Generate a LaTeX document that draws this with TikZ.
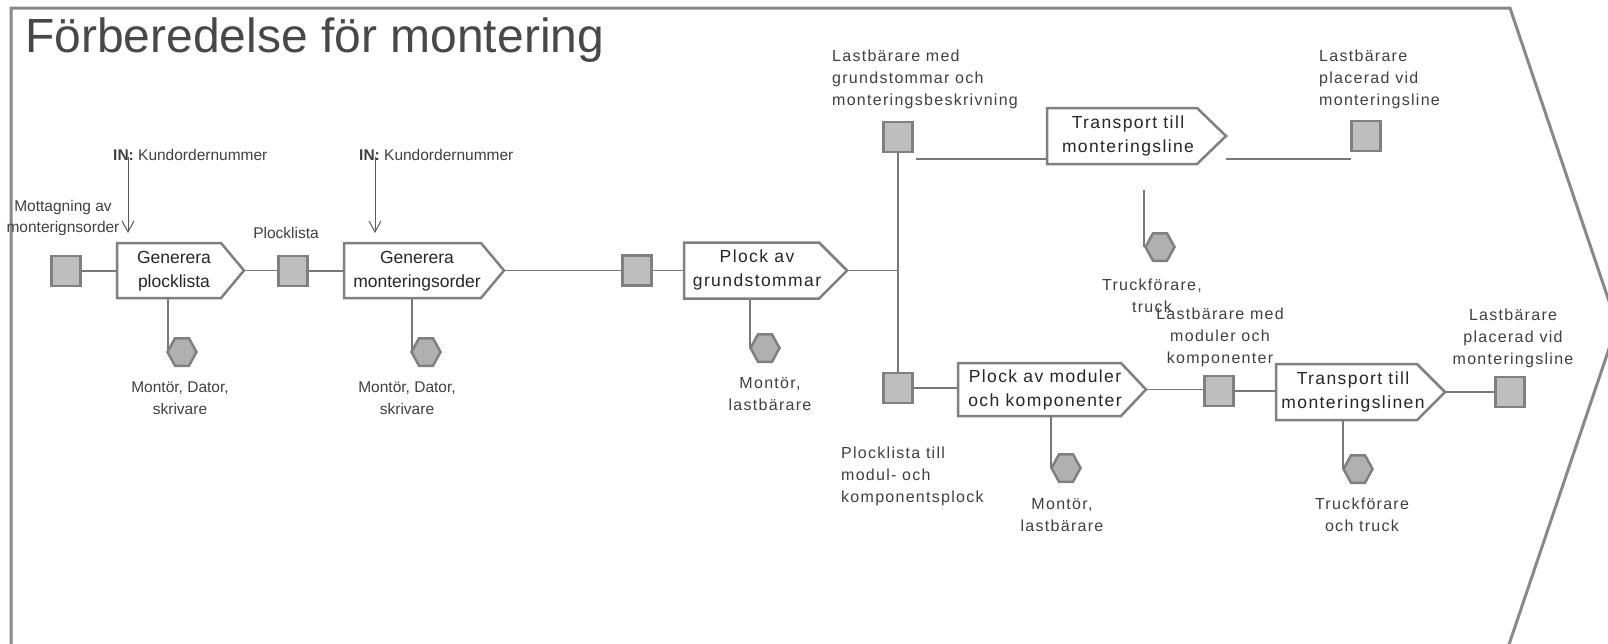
\documentclass[tikz,border=0pt]{standalone}
\usepackage{fontspec}
\setmainfont{Liberation Sans}
\newfontfamily\widefont[LetterSpace=8]{Liberation Sans}
\usetikzlibrary{arrows.meta,calc}
\definecolor{framegray}{RGB}{137,137,137}
\definecolor{boxgray}{RGB}{128,128,128}
\definecolor{sqfill}{RGB}{190,190,190}
\definecolor{hexfill}{RGB}{176,176,176}
\definecolor{linegray}{RGB}{120,120,120}
\definecolor{txtgray}{RGB}{64,64,64}
\definecolor{titlegray}{RGB}{72,72,72}
\definecolor{arrowgray}{RGB}{90,90,90}
\tikzset{
  frameline/.style={draw=framegray, line width=3pt, line join=miter},
  sq/.style={rectangle, draw=boxgray, fill=sqfill, line width=2.5pt, minimum width=29pt, minimum height=30pt, inner sep=0pt},
  hexbox/.style={rectangle, inner sep=0pt, outer sep=0pt, minimum width=29pt, minimum height=27.5pt},
  hexline/.style={draw=boxgray, fill=hexfill, line width=2.5pt, line join=miter},
  pbox/.style={rectangle, inner sep=0pt, outer sep=0pt},
  procline/.style={draw=boxgray, fill=white, line width=2.5pt, line join=miter},
  ptext/.style={text=black!85, align=center, inner sep=0pt, font=\fontsize{17.5}{24.5}\selectfont},
  ptextw/.style={ptext, font=\widefont\fontsize{17.5}{24.5}\selectfont},
  lab/.style={text=txtgray, align=center, inner sep=0pt, font=\fontsize{15.5}{21.5}\selectfont},
  labw/.style={lab, font=\widefont\fontsize{16}{22}\selectfont},
  conn/.style={draw=linegray, line width=1.3pt},
  inarrow/.style={draw=arrowgray, line width=1pt, -{Straight Barb[length=11pt,width=12pt]}},
}
\newcommand\procshape[2]{\path[procline] (#1.north west) -- ([xshift=-#2]#1.north east) -- (#1.east) -- ([xshift=-#2]#1.south east) -- (#1.south west) -- cycle;}
\newcommand\hexshape[1]{\path[hexline] (#1.west) -- ([xshift=7.5pt]#1.north west) -- ([xshift=-7.5pt]#1.north east) -- (#1.east) -- ([xshift=-7.5pt]#1.south east) -- ([xshift=7.5pt]#1.south west) -- cycle;}
\begin{document}
\begin{tikzpicture}[x=1pt,y=-1pt]
\useasboundingbox (0,0) rectangle (1608,643);
\fill[white] (0,0) rectangle (1608,643);
% frame
\draw[frameline] (11,680) -- (11,8) -- (1510,8) -- (1617,325) -- (1497,680);
% title
\node[anchor=base west, inner sep=0pt, text=titlegray, font=\fontsize{48}{48}\selectfont] (title) at (25,52) {Förberedelse för montering};

% process placeholders (full shape extents)
\node[pbox, minimum width=127pt, minimum height=55pt] (p1) at (180.5,270.5) {};
\node[pbox, minimum width=160pt, minimum height=55pt] (p2) at (424,270.5) {};
\node[pbox, minimum width=163pt, minimum height=56pt] (p3) at (765.5,270.5) {};
\node[pbox, minimum width=179pt, minimum height=56pt] (p4) at (1136.5,136) {};
\node[pbox, minimum width=188pt, minimum height=53pt] (p5) at (1052,389.5) {};
\node[pbox, minimum width=169pt, minimum height=56pt] (p6) at (1360.5,392) {};

% squares
\node[sq] (s1) at (66,271) {};
\node[sq] (s2) at (293,271) {};
\node[sq] (s3) at (637,270.5) {};
\node[sq] (s4) at (898,137) {};
\node[sq] (s5) at (1366,136) {};
\node[sq] (s6) at (898,388) {};
\node[sq] (s7) at (1219,391) {};
\node[sq] (s8) at (1510,392) {};

% hexagon placeholders
\node[hexbox] (h1) at (182,352) {};
\node[hexbox] (h2) at (426,352) {};
\node[hexbox] (h3) at (765,348) {};
\node[hexbox] (h4) at (1160,247) {};
\node[hexbox] (h5) at (1066,468) {};
\node[hexbox] (h6) at (1358,469) {};

% connectors
\draw[conn] (s1.east) -- (s1.east -| p1.west);
\draw[conn] (p1.east) -- (p1.east -| s2.west);
\draw[conn] (s2.east) -- (s2.east -| p2.west);
\draw[conn] (p2.east) -- (p2.east -| s3.west);
\draw[conn] (s3.east) -- (s3.east -| p3.west);
\draw[conn] (p3.east) -- (p3.east -| s4.south);
\draw[conn] (s4.south) -- (s6.north);
\coordinate (u1) at (916,159);
\coordinate (u2) at (1351,159);
\draw[conn] (u1) -- (u1 -| p4.west);
\draw[conn] (u2 -| p4.east) -- (u2);
\draw[conn] (s6.east) -- (s6.east -| p5.west);
\draw[conn] (p5.east) -- (p5.east -| s7.west);
\draw[conn] (s7.east) -- (s7.east -| p6.west);
\draw[conn] (p6.east) -- (p6.east -| s8.west);
% resource lines
\coordinate (r1) at (168,0);
\coordinate (r2) at (412,0);
\coordinate (r3) at (750,0);
\coordinate (r4) at (1144,190);
\coordinate (r5) at (1051,0);
\coordinate (r6) at (1343,0);
\draw[conn] (r1 |- p1.south) -- (r1 |- h1.center);
\draw[conn] (r2 |- p2.south) -- (r2 |- h2.center);
\draw[conn] (r3 |- p3.south) -- (r3 |- h3.center);
\draw[conn] (r4) -- (r4 |- h4.center);
\draw[conn] (r5 |- p5.south) -- (r5 |- h5.center);
\draw[conn] (r6 |- p6.south) -- (r6 |- h6.center);

% process outlines
\procshape{p1}{23pt}
\procshape{p2}{23pt}
\procshape{p3}{28pt}
\procshape{p4}{29pt}
\procshape{p5}{25pt}
\procshape{p6}{28pt}

% hexagon outlines
\hexshape{h1}
\hexshape{h2}
\hexshape{h3}
\hexshape{h4}
\hexshape{h5}
\hexshape{h6}

% process texts
\node[ptext] (t1) at (174,271) {Generera\\plocklista};
\node[ptext] (t2) at (417,271) {Generera\\monteringsorder};
\node[ptextw] (t3) at (757,270) {Plock av\\grundstommar};
\node[ptextw] (t4) at (1128,136) {Transport till\\monteringsline};
\node[ptextw] (t5) at (1045,390) {Plock av moduler\\och komponenter};
\node[ptextw] (t6) at (1353,392) {Transport till\\monteringslinen};

% input arrows
\node[lab, anchor=west] (in1) at (113,155) {\textbf{IN:} Kundordernummer};
\node[lab, anchor=west] (in2) at (359,155) {\textbf{IN:} Kundordernummer};
\coordinate (a1) at (128,157);
\coordinate (a2) at (375,157);
\draw[inarrow] (a1) -- ($(a1 |- p1.north)+(0,-10)$);
\draw[inarrow] (a2) -- ($(a2 |- p2.north)+(0,-10)$);

% labels
\node[lab] (l1) at (63,218) {Mottagning av\\monterignsorder};
\node[lab] (l2) at (286,233) {Plocklista};
\node[lab] (lh1) at (180,398) {Montör, Dator,\\skrivare};
\node[lab] (lh2) at (407,398) {Montör, Dator,\\skrivare};
\node[labw] (lh3) at (770,394) {Montör,\\lastbärare};
\node[labw, align=left, anchor=west] (ls4) at (832,79) {Lastbärare med\\grundstommar och\\monteringsbeskrivning};
\node[labw, align=left, anchor=west] (ls5) at (1319,79) {Lastbärare\\placerad vid\\monteringsline};
\node[labw] (lh4) at (1152,296) {Truckförare,\\truck};
\node[labw, align=left, anchor=west] (ls6) at (841,476) {Plocklista till\\modul- och\\komponentsplock};
\node[labw] (lh5) at (1062,515) {Montör,\\lastbärare};
\node[labw] (ls7) at (1220,337) {Lastbärare med\\moduler och\\komponenter};
\node[labw] (ls8) at (1513,338) {Lastbärare\\placerad vid\\monteringsline};
\node[labw] (lh6) at (1362,515) {Truckförare\\och truck};
\end{tikzpicture}
\end{document}
